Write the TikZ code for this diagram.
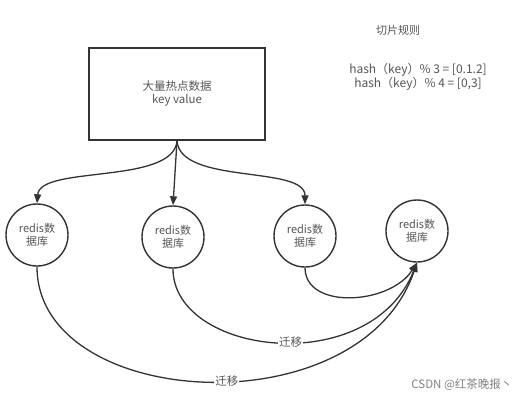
\documentclass[tikz,border=0pt]{standalone}
\usepackage{fontspec}
\setmainfont{Noto Sans CJK SC}
\usepackage{tikz}
\usetikzlibrary{arrows.meta}
\definecolor{inkline}{HTML}{333333}
\definecolor{inktext}{HTML}{555555}
\tikzset{
  dbnode/.style={draw=inkline, line width=1.4pt, circle, minimum size=62pt, inner sep=0pt, align=center, font=\fontsize{11}{13}\selectfont, text=inktext},
  hotbox/.style={draw=inkline, line width=1.4pt, minimum width=176pt, minimum height=92pt, align=center, font=\fontsize{11.5}{13}\selectfont, text=inktext},
  feed/.style={draw=inkline, line width=1.3pt, -{Triangle[length=9pt,width=7pt]}},
  move/.style={fill=white, inner sep=1pt, font=\fontsize{11.5}{12}\selectfont, text=inktext}
}

\begin{document}
\begin{tikzpicture}[x=1pt, y=-1pt]
\useasboundingbox (0,0) rectangle (524,402);
% data box and rules
\node[hotbox] (hot) at (177,94) {大量热点数据\\key value};
\node[text=inktext, font=\fontsize{11}{12}\selectfont] (rule) at (398,30) {切片规则};
\node[text=inktext, font=\fontsize{12}{13.5}\selectfont, align=center] (hash) at (418,77) {hash（key）\% 3 = [0.1.2]\\hash（key）\% 4 = [0,3]};
% redis nodes
\node[dbnode] (db1) at (37,235) {redis数\\据库};
\node[dbnode] (db2) at (173,237) {redis数\\据库};
\node[dbnode] (db3) at (305,236) {redis数\\据库};
\node[dbnode] (db4) at (417,231) {redis数\\据库};
% distribution
\draw[feed] (hot.south) .. controls (174,185) and (40,165) .. (db1.north);
\draw[feed] (hot.south) -- (db2.north);
\draw[feed] (hot.south) .. controls (180,185) and (305,165) .. (db3.north);
% migration
\draw[feed] (db1.south) .. controls (37,410) and (360,430) .. node[move, pos=0.54] (mv1) {迁移} (db4.south);
\draw[feed] (db2.south) .. controls (173,355) and (370,380) .. node[move, pos=0.54] (mv2) {迁移} (db4.south);
\draw[feed] (db3.south) .. controls (305,310) and (390,305) .. (db4.south);
% watermark
\node[text=gray, font=\fontsize{11.5}{12}\selectfont, anchor=east] (mark) at (516,385) {CSDN @红茶晚报丶};
\end{tikzpicture}
\end{document}
